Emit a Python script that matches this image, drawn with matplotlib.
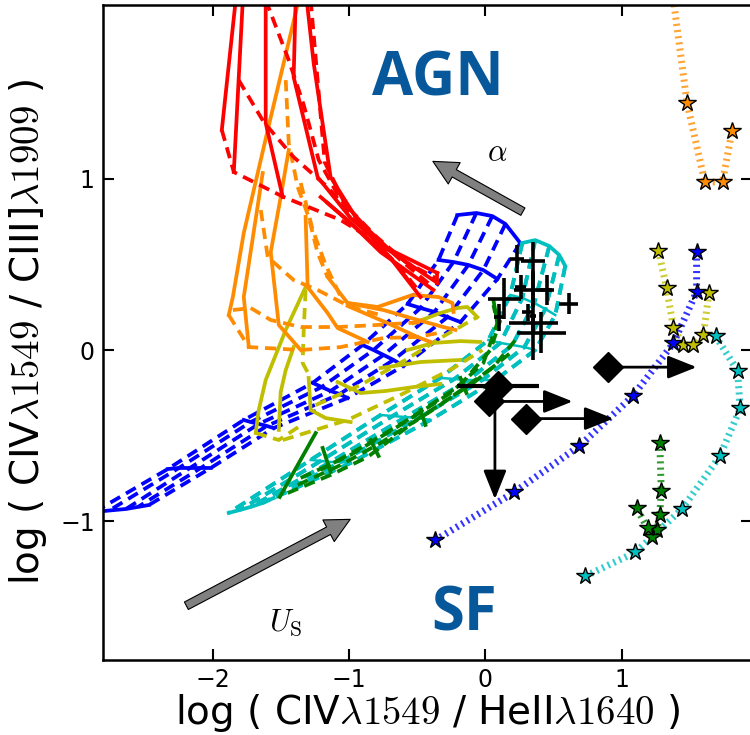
import numpy as np
import matplotlib.pyplot as plt
from matplotlib.patches import FancyArrowPatch

plt.rcParams['mathtext.fontset'] = 'cm'
plt.rcParams['font.family'] = 'DejaVu Sans'

# ---------------- model grids: x = log CIV/HeII, y = log CIV/CIII] ----------------
# blue grid: rows are the solid curves, columns joined by dashed lines
blue_x = [
    [-0.205, -0.066, 0.051, 0.147, 0.256],
    [-0.344, -0.234, -0.125, -0.015, 0.088],
    [-0.571, -0.476, -0.374, -0.278, -0.183],
    [-0.901, -0.821, -0.747, -0.674, -0.601],
    [-1.267, -1.201, -1.136, -1.070, -1.011],
    [-1.773, -1.722, -1.663, -1.604, -1.553],
    [-2.330, -2.249, -2.168, -2.088, -2.015],
    [-2.870, -2.760, -2.637, -2.549, -2.469],
]
blue_y = [
    [0.787, 0.799, 0.781, 0.735, 0.624],
    [0.525, 0.513, 0.496, 0.466, 0.414],
    [0.268, 0.245, 0.222, 0.192, 0.163],
    [0.029, 0.000, -0.029, -0.058, -0.093],
    [-0.192, -0.216, -0.239, -0.257, -0.280],
    [-0.408, -0.420, -0.431, -0.443, -0.455],
    [-0.694, -0.688, -0.688, -0.688, -0.688],
    [-0.945, -0.936, -0.927, -0.915, -0.904],
]

# cyan grid
cyan_x = [
    [0.271, 0.366, 0.469, 0.542, 0.586],
    [0.183, 0.271, 0.359, 0.440, 0.513],
    [0.022, 0.110, 0.198, 0.286, 0.366],
    [-0.330, -0.227, -0.125, -0.022, 0.073],
    [-0.769, -0.681, -0.586, -0.491, -0.403],
    [-1.282, -1.209, -1.136, -1.062, -0.989],
    [-1.883, -1.802, -1.722, -1.634, -1.553],
]
cyan_y = [
    [0.624, 0.641, 0.606, 0.554, 0.490],
    [0.321, 0.303, 0.274, 0.239, 0.204],
    [0.058, 0.041, 0.029, 0.017, 0.000],
    [-0.163, -0.169, -0.175, -0.175, -0.175],
    [-0.379, -0.385, -0.391, -0.397, -0.408],
    [-0.641, -0.647, -0.653, -0.653, -0.659],
    [-0.950, -0.933, -0.915, -0.892, -0.863],
]

# green grid
green_dashed = [
    ([-1.451, -1.136, -0.864, -0.476, -0.088, 0.183], [-0.834, -0.729, -0.624, -0.391, -0.192, -0.017]),
    ([-1.377, -1.062, -0.769, -0.352, 0.059, 0.220], [-0.787, -0.671, -0.542, -0.332, -0.099, 0.058]),
    ([-1.355, -0.989, -0.623, -0.256, -0.015, 0.088, 0.059], [-0.746, -0.612, -0.437, -0.251, -0.076, 0.157, 0.262]),
    ([-1.209, -0.916, -0.549, -0.183, 0.037, 0.110], [-0.700, -0.571, -0.397, -0.204, 0.000, 0.175]),
]
green_solid = [
    ([-1.509, -1.245], [-0.857, -0.484]),
    ([0.059, 0.088], [0.292, 0.157]),
    ([-0.842, -0.784], [-0.525, -0.618]),
    ([-0.476, -0.440], [-0.350, -0.437]),
    ([-0.183, -0.139], [-0.163, -0.251]),
    ([-1.194, -1.136], [-0.571, -0.711]),
]

# olive grid
olive_solid = [
    ([-1.319, -1.465, -1.612, -1.663, -1.685], [0.367, 0.117, -0.175, -0.350, -0.484]),
    ([-1.407, -1.465, -1.502, -1.516], [0.017, -0.117, -0.245, -0.466]),
    ([-1.297, -1.282, -1.172, -0.989], [-0.163, -0.350, -0.397, -0.420]),
    ([-1.084, -0.916, -0.733, -0.527, -0.330], [-0.187, -0.251, -0.239, -0.216, -0.198]),
    ([-0.769, -0.476, -0.183], [-0.105, -0.070, -0.058]),
    ([-0.571, -0.381, -0.183, -0.037], [0.000, 0.041, 0.052, 0.047]),
    ([-0.527, -0.330, -0.205, -0.132, -0.059], [0.157, 0.216, 0.245, 0.251, 0.192]),
]
olive_dashed = [
    ([-1.319, -1.333, -1.341, -1.282], [0.350, 0.117, -0.076, -0.163]),
    ([-1.487, -1.011, -0.623, -0.234, -0.022], [-0.525, -0.408, -0.262, -0.105, 0.000]),
    ([-1.245, -0.916, -0.586, -0.293, -0.059], [-0.321, -0.204, -0.058, 0.087, 0.192]),
    ([-1.685, -1.516, -1.355], [-0.484, -0.525, -0.440]),
]

# orange grid
orange_solid = [
    ([-1.370, -1.597, -1.773, -1.853, -1.883], [2.041, 1.283, 0.682, 0.309, 0.204]),
    ([-1.634, -1.773, -1.736], [1.032, 0.309, 0.017]),
    ([-1.443, -1.502, -1.575, -1.516, -1.355], [1.166, 0.892, 0.571, 0.146, 0.000]),
    ([-1.319, -1.304, -1.158, -1.084, -0.864], [0.776, 0.367, 0.216, 0.128, 0.047]),
    ([-1.158, -1.011, -0.791, -0.535, -0.344, -0.242, -0.234], [0.426, 0.274, 0.251, 0.321, 0.309, 0.274, 0.222]),
    ([-1.011, -0.747, -0.549, -0.308, -0.220], [0.274, 0.233, 0.187, 0.134, 0.117]),
    ([-1.011, -0.718, -0.498, -0.403], [0.257, 0.157, 0.076, 0.047]),
]
orange_dashed = [
    ([-1.883, -1.736, -1.355, -1.062, -0.747, -0.498, -0.308], [0.204, 0.017, 0.000, 0.017, 0.070, 0.076, 0.105]),
    ([-1.853, -1.722, -1.575, -1.355, -1.084, -0.791, -0.454], [0.233, 0.245, 0.175, 0.134, 0.134, 0.146, 0.163]),
    ([-1.465, -1.443, -1.377, -1.297, -1.231, -1.158], [1.574, 1.207, 0.950, 0.776, 0.566, 0.426]),
    ([-1.648, -1.597, -1.407, -1.231, -0.989, -0.769], [0.816, 0.542, 0.408, 0.350, 0.251, 0.204]),
    ([-1.355, -1.267, -1.172, -1.040], [0.974, 0.700, 0.496, 0.274]),
]

# red grid
red_solid = [
    ([-1.832, -1.934], [2.041, 1.283]),
    ([-1.780, -1.846], [2.041, 1.038]),
    ([-1.612, -1.612, -1.487], [2.041, 1.324, 0.892]),
    ([-1.392, -1.407, -1.231, -0.989, -0.769, -0.352], [2.041, 1.592, 1.009, 0.770, 0.612, 0.449]),
    ([-1.311, -1.260, -1.136, -0.916, -0.733, -0.352], [2.041, 1.673, 1.009, 0.729, 0.595, 0.391]),
    ([-1.209, -1.011, -0.769, -0.381], [0.892, 0.758, 0.571, 0.350]),
    ([-1.158, -0.916, -0.696, -0.476], [0.857, 0.688, 0.536, 0.309]),
    ([-0.352, -0.352], [0.449, 0.391]),
]
red_dashed = [
    ([-1.934, -1.846, -1.480, -1.062, -0.821, -0.623, -0.476], [1.283, 1.038, 0.892, 0.758, 0.641, 0.478, 0.332]),
    ([-1.810, -1.626, -1.407, -1.158, -0.989, -0.769, -0.549], [1.574, 1.329, 1.125, 0.950, 0.799, 0.612, 0.391]),
    ([-1.612, -1.443, -1.333, -1.223, -1.062, -0.842, -0.623, -0.403], [2.041, 1.691, 1.429, 1.108, 0.875, 0.688, 0.525, 0.379]),
    ([-1.282, -1.179, -1.026, -0.806, -0.586, -0.366], [2.041, 1.096, 0.845, 0.665, 0.513, 0.420]),
]

# ---------------- star tracks ----------------
orange_trk_x = [1.37, 1.48, 1.61, 1.74, 1.81]
orange_trk_y = [2.10, 1.44, 0.98, 0.98, 1.28]
olive_trk_x = [1.27, 1.33, 1.38, 1.45, 1.52, 1.60, 1.64]
olive_trk_y = [0.58, 0.36, 0.13, 0.03, 0.03, 0.09, 0.33]
blue_trk_x = [-0.37, 0.21, 0.69, 1.08, 1.38, 1.55, 1.55]
blue_trk_y = [-1.11, -0.83, -0.56, -0.27, 0.04, 0.34, 0.57]
cyan_trk_x = [1.69, 1.85, 1.87, 1.72, 1.44, 1.10, 0.73]
cyan_trk_y = [0.08, -0.12, -0.34, -0.62, -0.93, -1.18, -1.32]
green_trk_x = [1.28, 1.29, 1.28, 1.26, 1.22, 1.19, 1.11]
green_trk_y = [-0.54, -0.82, -0.96, -1.05, -1.09, -1.04, -0.92]

# ---------------- observed objects ----------------
cross_x = [0.23, 0.35, 0.14, 0.26, 0.35, 0.35, 0.35, 0.41, 0.31, 0.61, 0.10, 0.45]
cross_y = [0.53, 0.52, 0.30, 0.37, 0.35, 0.20, 0.16, 0.10, 0.22, 0.27, 0.19, 0.35]
cross_xerr = [0.05, 0.09, 0.12, 0.04, 0.14, 0.02, 0.18, 0.18, 0.04, 0.07, 0.04, 0.05]
cross_yerr = [0.08, 0.11, 0.12, 0.07, 0.10, 0.26, 0.05, 0.12, 0.05, 0.06, 0.08, 0.09]

diam_x = [0.90, 0.30, 0.09, 0.03]
diam_y = [-0.10, -0.40, -0.21, -0.30]
diam_xerr = [0.0, 0.0, 0.30, 0.0]
# limit arrows: (x0, y0, x1, y1)
lim_arrows = [
    (0.90, -0.10, 1.55, -0.10),
    (0.30, -0.40, 0.94, -0.40),
    (0.07, -0.30, 0.64, -0.30),
    (0.07, -0.30, 0.07, -0.87),
]

DASH = (0, (3.0, 1.8))
DOT = (0, (0.3, 0.6))
LW = 2.7

C_RED, C_ORA, C_OLI = '#ff0000', '#ff8c00', '#bfbf00'
C_GRN, C_CYA, C_BLU = '#008000', '#00bfbf', '#0000ff'


def draw_grid(ax, gx, gy, color, solid_rows, lw_rows=LW):
    gx, gy = np.asarray(gx), np.asarray(gy)
    for j in range(gx.shape[1]):
        ax.plot(gx[:, j], gy[:, j], color=color, lw=LW, ls=DASH)
    for i in solid_rows:
        ax.plot(gx[i], gy[i], color=color, lw=lw_rows)


def draw_lines(ax, segs, color, ls):
    for xs, ys in segs:
        ax.plot(xs, ys, color=color, lw=LW, ls=ls)


def draw_track(ax, xs, ys, color, first_star=0):
    ax.plot(xs, ys, color=color, lw=5, ls=DOT, alpha=0.8)
    ax.plot(xs[first_star:], ys[first_star:], ls='none', marker='*', ms=13,
            mfc=color, mec='k', mew=1.0, zorder=6)


fig = plt.figure(figsize=(7.5, 7.35), dpi=100)
ax = fig.add_axes([0.1373, 0.1020, 0.8653, 0.8912])

draw_grid(ax, blue_x, blue_y, C_BLU, range(len(blue_x)))
draw_grid(ax, cyan_x, cyan_y, C_CYA, [0, len(cyan_x) - 1])
draw_grid(ax, cyan_x, cyan_y, C_CYA, range(1, len(cyan_x) - 1), lw_rows=1.8)
draw_lines(ax, green_dashed, C_GRN, DASH)
draw_lines(ax, green_solid, C_GRN, '-')
draw_lines(ax, olive_dashed, C_OLI, DASH)
draw_lines(ax, olive_solid, C_OLI, '-')
draw_lines(ax, orange_dashed, C_ORA, DASH)
draw_lines(ax, orange_solid, C_ORA, '-')
draw_lines(ax, red_dashed, C_RED, DASH)
draw_lines(ax, red_solid, C_RED, '-')

draw_track(ax, orange_trk_x, orange_trk_y, C_ORA, first_star=1)
draw_track(ax, olive_trk_x, olive_trk_y, C_OLI)
draw_track(ax, blue_trk_x, blue_trk_y, C_BLU)
draw_track(ax, cyan_trk_x, cyan_trk_y, C_CYA)
draw_track(ax, green_trk_x, green_trk_y, C_GRN)

ax.errorbar(cross_x, cross_y, xerr=cross_xerr, yerr=cross_yerr, fmt='none',
            ecolor='k', elinewidth=2.6, capsize=0, zorder=7)

for x0, y0, x1, y1 in lim_arrows:
    ax.annotate('', xy=(x1, y1), xytext=(x0, y0), zorder=7,
                arrowprops=dict(arrowstyle='-|>,head_length=0.8,head_width=0.32',
                                color='k', lw=2, mutation_scale=22,
                                shrinkA=0, shrinkB=0))
ax.errorbar(diam_x, diam_y, xerr=diam_xerr, fmt='D', ms=15, color='k',
            elinewidth=3, capsize=0, zorder=8)

# gray direction arrows
for (x0, y0), (x1, y1) in [((0.293, 0.799), (-0.403, 1.108)),
                           ((-2.212, -1.499), (-0.974, -0.980))]:
    ax.add_patch(FancyArrowPatch((x0, y0), (x1, y1),
                                 arrowstyle='simple,head_length=1.1,head_width=1.1,tail_width=0.38',
                                 mutation_scale=16, fc='0.5', ec='k', lw=0.8, zorder=9))
ax.text(0.09, 1.15, r'$\alpha$', fontsize=22, ha='center', va='center')
ax.text(-1.465, -1.59, r'$U_{\rm S}$', fontsize=22, ha='center', va='center')

ax.text(-0.35, 1.487, 'AGN', color='#07589a', fontsize=43, fontweight='bold',
        family='Open Sans', ha='center', va='baseline')
ax.text(-0.16, -1.633, 'SF', color='#07589a', fontsize=43, fontweight='bold',
        family='Open Sans', ha='center', va='baseline')

ax.set_xlim(-2.806, 1.956)
ax.set_ylim(-1.808, 2.012)
ax.set_xticks([-2, -1, 0, 1])
ax.set_yticks([-1, 0, 1])
ax.tick_params(direction='in', length=8, width=1.5, top=True, right=True,
               labelsize=17, pad=6)
for sp in ax.spines.values():
    sp.set_linewidth(1.8)

ax.set_xlabel(r'log ( CIV$\lambda1549$ / HeII$\lambda1640$ )', fontsize=28, labelpad=0)
ax.set_ylabel(r'log ( CIV$\lambda1549$ / CIII]$\lambda1909$ )', fontsize=28, labelpad=8)

fig.savefig('out.png', dpi=100)
